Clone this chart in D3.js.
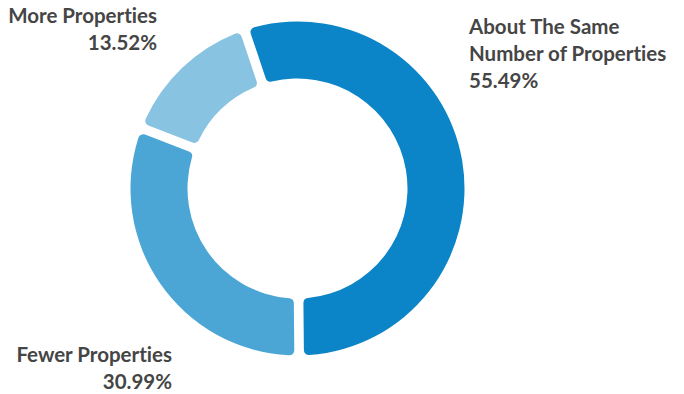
<!DOCTYPE html>
<html>
<head>
<meta charset="utf-8">
<script src="https://cdn.jsdelivr.net/npm/d3@7"></script>
<style>
  html, body { margin: 0; padding: 0; background: #fff; }
  svg { display: block; }
  text { font-family: "Source Sans Pro", Lato, "Noto Sans", sans-serif; font-weight: 700; fill: #454545; font-variant-ligatures: none; }
</style>
</head>
<body>
<svg id="chart" width="684" height="394"></svg>
<script>
// Survey answers and their shares (percent)
const categories = ["About The Same Number of Properties", "Fewer Properties", "More Properties"];
const values = [55.49, 30.99, 13.52];
const labelLines = [["About The Same", "Number of Properties"], ["Fewer Properties"], ["More Properties"]];
const colors = ["#0b85c7", "#4ba6d5", "#88c3e2"];

const width = 684, height = 394;
const cx = 297.5, cy = 188.5;
const outerR = 167, innerR = 110;

const svg = d3.select("#chart");

const startDeg = -18.5;
const pie = d3.pie()
  .value(d => d.value)
  .sort(null)
  .startAngle(startDeg * Math.PI / 180)
  .endAngle((360 + startDeg) * Math.PI / 180)
  .padAngle(0.048);

const arc = d3.arc()
  .innerRadius(innerR)
  .outerRadius(outerR)
  .cornerRadius(5);

const data = categories.map((c, i) => ({ category: c, value: values[i], lines: labelLines[i], color: colors[i] }));

const g = svg.append("g").attr("transform", `translate(${cx},${cy})`);
g.selectAll("path")
  .data(pie(data))
  .join("path")
  .attr("d", arc)
  .attr("fill", d => d.data.color);

// Label blocks: anchor point, alignment, line spacing
const labelLayout = [
  { x: 469, y: 34, anchor: "start" },
  { x: 172, y: 362, anchor: "end" },
  { x: 157, y: 23, anchor: "end" }
];
const lineH = 27;

data.forEach((d, i) => {
  const L = labelLayout[i];
  const t = svg.append("text")
    .attr("x", L.x)
    .attr("y", L.y)
    .attr("text-anchor", L.anchor)
    .style("font-size", "20.5px");
  const lines = d.lines.concat([d.value.toFixed(2) + "%"]);
  lines.forEach((ln, j) => {
    t.append("tspan").attr("x", L.x).attr("dy", j === 0 ? 0 : lineH).text(ln);
  });
});
</script>
</body>
</html>
